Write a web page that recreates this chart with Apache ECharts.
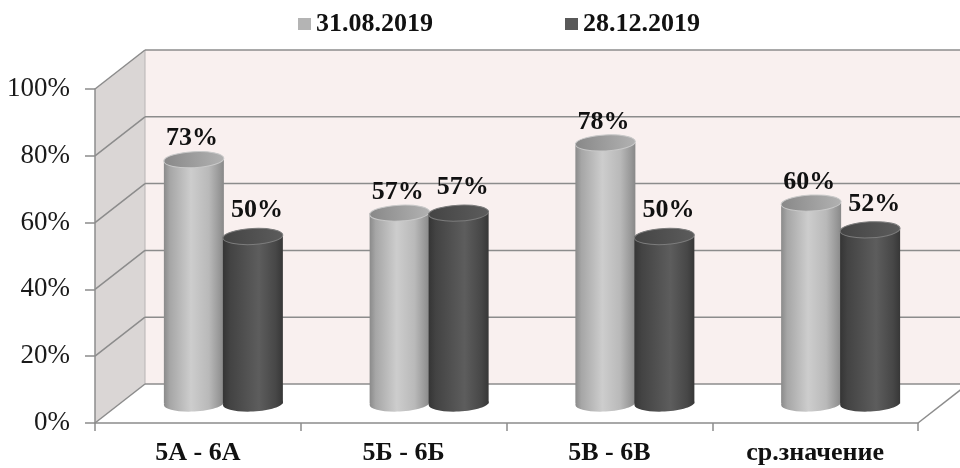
<!DOCTYPE html>
<html>
<head>
<meta charset="utf-8">
<script src="https://cdn.jsdelivr.net/npm/echarts@6/dist/echarts.min.js"></script>
<style>
  html, body { margin: 0; padding: 0; background: #ffffff; }
  #chart { width: 960px; height: 468px; }
</style>
</head>
<body>
<div id="chart"></div>
<script>
// Chart data
const categories = ['5А - 6А', '5Б - 6Б', '5В - 6В', 'ср.значение'];
const seriesNames = ['31.08.2019', '28.12.2019'];
const valuesAug = [73, 57, 78, 60];
const valuesDec = [50, 57, 50, 52];
const yTicks = [0, 20, 40, 60, 80, 100];

const FONT = '"Liberation Serif", "Times New Roman", serif';
// Depth offset of the box (front plane -> back wall)
const DEPTH = [50, -39];
const GRID_COLOR = '#8c8c8c';

const chart = echarts.init(document.getElementById('chart'), null, { renderer: 'canvas' });

// Back wall, side wall, floor and their gridlines, derived from the front grid's scale
function renderBox(params, api) {
  const cs = params.coordSys;
  const L = cs.x, R = cs.x + cs.width, T = cs.y, B = cs.y + cs.height;
  const dx = DEPTH[0], dy = DEPTH[1];
  const children = [
    { type: 'rect', shape: { x: L + dx, y: T + dy, width: cs.width, height: cs.height },
      style: { fill: '#f9f0ef' } },
    { type: 'polygon', shape: { points: [[L, T], [L + dx, T + dy], [L + dx, B + dy], [L, B]] },
      style: { fill: '#dad6d5' } },
    { type: 'polygon', shape: { points: [[L, B], [R, B], [R + dx, B + dy], [L + dx, B + dy]] },
      style: { fill: '#ffffff' } },
    { type: 'line', shape: { x1: L + dx, y1: T + dy, x2: L + dx, y2: B + dy },
      style: { stroke: '#b8b4b4', lineWidth: 1 } },
    { type: 'line', shape: { x1: R, y1: B, x2: R + dx, y2: B + dy },
      style: { stroke: GRID_COLOR, lineWidth: 1.5 } }
  ];
  yTicks.forEach(function (t) {
    const y = api.coord([0, t])[1];
    children.push({ type: 'line', shape: { x1: L + dx, y1: y + dy, x2: R + dx, y2: y + dy },
      style: { stroke: GRID_COLOR, lineWidth: 1.5 } });
    children.push({ type: 'line', shape: { x1: L, y1: y, x2: L + dx, y2: y + dy },
      style: { stroke: GRID_COLOR, lineWidth: 1.5 } });
  });
  return { type: 'group', children: children };
}

function hGrad(stops) {
  return new echarts.graphic.LinearGradient(0, 0, 1, 0,
    stops.map(function (s) { return { offset: s[0], color: s[1] }; }));
}

const LIGHT = {
  body: [[0, '#8a8a8a'], [0.1, '#a6a6a6'], [0.45, '#cdcdcd'], [0.75, '#b9b9b9'], [0.93, '#979797'], [1, '#888888']],
  top: [[0, '#888888'], [1, '#b2b2b2']],
  rim: '#c9c9c9',
  labelDx: -2, labelDy: 21
};
const DARK = {
  body: [[0, '#353535'], [0.12, '#434343'], [0.6, '#5d5d5d'], [0.88, '#474747'], [1, '#373737']],
  top: [[0, '#444444'], [1, '#5c5c5c']],
  rim: '#7c7c7c',
  labelDx: 4, labelDy: 26
};

function cylinder(offset, pal) {
  return function (params, api) {
    const idx = api.value(0), v = api.value(1);
    const topPt = api.coord([idx, v]);
    const basePt = api.coord([idx, 0]);
    const cx = topPt[0] + offset;
    const rx = 30, ry = 8;
    const ty = topPt[1], by = basePt[1];
    return {
      type: 'group',
      children: [
        { type: 'ellipse', x: cx, y: by, rotation: 0.05, shape: { cx: 0, cy: 0, rx: rx, ry: ry },
          style: { fill: hGrad(pal.body) } },
        { type: 'rect', shape: { x: cx - rx, y: ty, width: rx * 2, height: by - ty },
          style: { fill: hGrad(pal.body) } },
        { type: 'ellipse', x: cx, y: ty, rotation: 0.05, shape: { cx: 0, cy: 0, rx: rx, ry: ry },
          style: { fill: hGrad(pal.top), stroke: pal.rim, lineWidth: 1 } },
        { type: 'text', x: cx + pal.labelDx, y: ty - pal.labelDy,
          style: { text: v + '%', fill: '#111111', font: 'bold 26px ' + FONT,
                   align: 'center', verticalAlign: 'middle' } }
      ]
    };
  };
}

const option = {
  backgroundColor: '#ffffff',
  animation: false,
  legend: {
    data: seriesNames,
    top: 6,
    left: 293,
    itemGap: 132,
    icon: 'rect',
    itemWidth: 13,
    itemHeight: 12,
    textStyle: { fontFamily: FONT, fontSize: 26, fontWeight: 'bold', color: '#111111' }
  },
  grid: [
    { left: 95, right: 42, top: 89, bottom: 45 },
    { left: 120, right: 17, top: 69.5, bottom: 64.5 }
  ],
  xAxis: [
    {
      type: 'category', gridIndex: 0, data: categories, z: 5,
      axisLine: { lineStyle: { color: GRID_COLOR, width: 1.5 } },
      axisTick: { show: true, length: 8, lineStyle: { color: GRID_COLOR, width: 1.5 } },
      axisLabel: { margin: 17, fontFamily: FONT, fontSize: 26, fontWeight: 'bold', color: '#111111' }
    },
    { type: 'category', gridIndex: 1, data: categories, show: false }
  ],
  yAxis: [
    {
      type: 'value', gridIndex: 0, min: 0, max: 100, interval: 20, z: 5,
      axisLine: { show: true, lineStyle: { color: GRID_COLOR, width: 1.5 } },
      axisTick: { show: true, length: 10, lineStyle: { color: GRID_COLOR, width: 1.5 } },
      splitLine: { show: false },
      axisLabel: { margin: 25, formatter: '{value}%', fontFamily: FONT, fontSize: 27, color: '#1a1a1a' }
    },
    { type: 'value', gridIndex: 1, min: 0, max: 100, interval: 20, show: false }
  ],
  series: [
    {
      type: 'custom', name: 'box', xAxisIndex: 0, yAxisIndex: 0, z: 1, silent: true,
      clip: false, renderItem: renderBox, data: [[0, 0]]
    },
    {
      type: 'custom', name: seriesNames[0], xAxisIndex: 1, yAxisIndex: 1, z: 3, clip: false,
      itemStyle: { color: '#b4b4b4' },
      renderItem: cylinder(-29, LIGHT),
      data: valuesAug.map(function (v, i) { return [i, v]; })
    },
    {
      type: 'custom', name: seriesNames[1], xAxisIndex: 1, yAxisIndex: 1, z: 4, clip: false,
      itemStyle: { color: '#595959' },
      renderItem: cylinder(30, DARK),
      data: valuesDec.map(function (v, i) { return [i, v]; })
    }
  ]
};

chart.setOption(option);
</script>
</body>
</html>
